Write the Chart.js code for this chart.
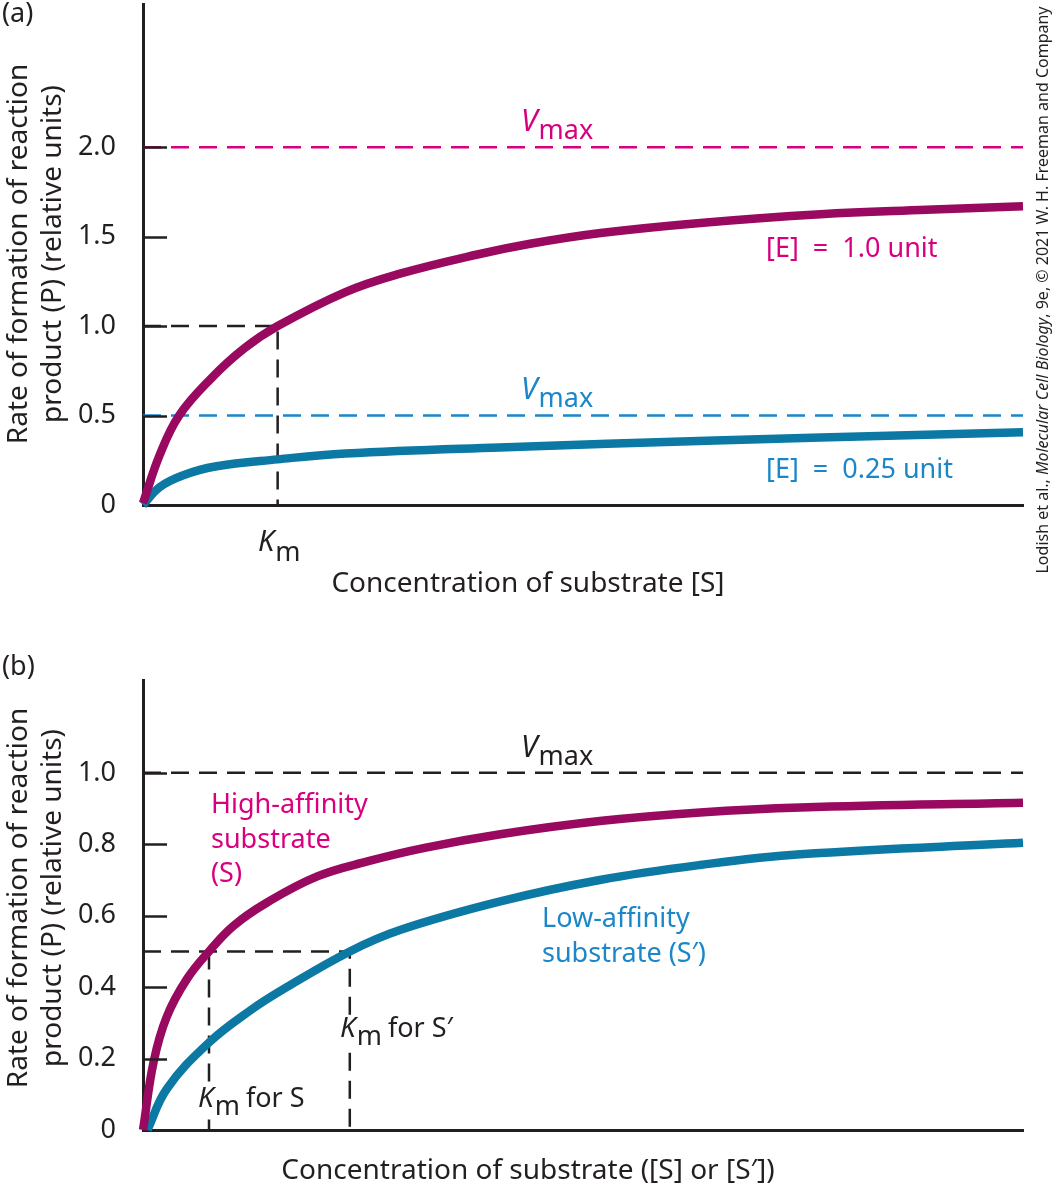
<!DOCTYPE html>
<html>
<head>
<meta charset="utf-8">
<title>Michaelis-Menten kinetics</title>
<script src="https://cdn.jsdelivr.net/npm/chart.js@4.4.1/dist/chart.umd.min.js"></script>
<style>
    html, body { margin: 0; padding: 0; background: #fff; }
    .panel { position: absolute; left: 0; width: 1056px; }
    #panelA { top: 0; height: 600px; }
    #panelB { top: 600px; height: 586px; }
</style>
</head>
<body>
<div class="panel" id="panelA"><canvas id="chartA" width="1056" height="600"></canvas></div>
<div class="panel" id="panelB"><canvas id="chartB" width="1056" height="586"></canvas></div>
<script>
// ---- panel (a): two enzyme concentrations, same substrate ----
const substrateA = [0, 0.19, 0.41, 0.78, 1.15, 1.53, 2.3, 2.9, 3.8, 4.4, 5.2, 6.3, 7.7, 8.9, 10];
const rateEnzyme1 = [0.01, 0.28, 0.5, 0.71, 0.875, 1.0, 1.19, 1.29, 1.4, 1.46, 1.52, 1.575, 1.625, 1.65, 1.67];
const substrateA2 = [0, 0.19, 0.45, 0.82, 1.53, 2.3, 4.05, 6.5, 8.9, 10];
const rateEnzyme025 = [0, 0.1, 0.165, 0.215, 0.255, 0.288, 0.322, 0.36, 0.393, 0.407];
const ticksA = [0, 0.5, 1.0, 1.5, 2.0];
const vmaxEnzyme1 = 2.0;
const vmaxEnzyme025 = 0.5;
const kmA = 1.53;

// ---- panel (b): high- vs low-affinity substrate ----
const substrateS = [0, 0.12, 0.27, 0.5, 0.75, 1.03, 1.41, 1.98, 2.55, 3.2, 4.06, 5.19, 6.33, 7.47, 10];
const rateHighAff = [0, 0.19, 0.317, 0.423, 0.5, 0.572, 0.637, 0.71, 0.752, 0.79, 0.828, 0.865, 0.889, 0.903, 0.916];
const substrateS2 = [0.05, 0.27, 0.75, 1.22, 1.6, 2.35, 2.92, 4.06, 5.19, 6.33, 7.47, 10];
const rateLowAff = [0, 0.115, 0.245, 0.335, 0.395, 0.5, 0.56, 0.64, 0.7, 0.742, 0.772, 0.804];
const ticksB = [0, 0.2, 0.4, 0.6, 0.8, 1.0];
const vmaxB = 1.0;
const kmS = 0.75;
const kmS2 = 2.35;

const xMax = 10;

const INK = "#231f20";
const MAGENTA_LINE = "#98095f";
const BLUE_LINE = "#0b79a3";
const MAGENTA_TEXT = "#d9007f";
const BLUE_TEXT = "#1b87c9";
const FAMILY = '"Noto Sans", "Open Sans", sans-serif';

function font(size, style) {
    return (style ? style + " " : "") + size + "px " + FAMILY;
}

function toPoints(xs, ys) {
    return xs.map((x, i) => ({ x: x, y: ys[i] }));
}

function curve(xs, ys, color) {
    return {
        data: toPoints(xs, ys),
        showLine: true,
        borderColor: color,
        borderWidth: 8.5,
        borderCapStyle: "butt",
        tension: 0.4,
        pointRadius: 0,
        clip: false,
        order: 0,
    };
}

function dashed(points, color) {
    return {
        data: points,
        showLine: true,
        borderColor: color,
        borderWidth: 2.5,
        borderDash: [18, 10],
        pointRadius: 0,
        tension: 0,
        clip: false,
        order: 1,
    };
}

// plain text helper
function put(ctx, str, x, y, color, f, align) {
    ctx.font = f;
    ctx.fillStyle = color;
    ctx.textAlign = align || "left";
    ctx.textBaseline = "alphabetic";
    ctx.fillText(str, x, y);
    return x + ctx.measureText(str).width;
}

// italic symbol with a subscript, e.g. V_max / K_m
function symbolSub(ctx, x, y, sym, sub, color, symSize, subSize, drop) {
    let nx = put(ctx, sym, x, y, color, font(symSize, "italic"));
    return put(ctx, sub, nx + 1, y + drop, color, font(subSize));
}

function yTitle(ctx, centerY) {
    ctx.save();
    ctx.translate(0, centerY);
    ctx.rotate(-Math.PI / 2);
    ctx.font = font(28);
    ctx.fillStyle = INK;
    ctx.textAlign = "center";
    ctx.textBaseline = "alphabetic";
    ctx.fillText("Rate of formation of reaction", 0, 27);
    ctx.fillText("product (P) (relative units)", 0, 61);
    ctx.restore();
}

function innerTicks(chart, ticks) {
    const ctx = chart.ctx;
    const left = chart.chartArea.left;
    ctx.save();
    ctx.strokeStyle = INK;
    ctx.lineWidth = 2.5;
    ticks.filter((v) => v > 0).forEach((v) => {
        const y = Math.round(chart.scales.y.getPixelForValue(v)) + 0.5;
        ctx.beginPath();
        ctx.moveTo(left, y);
        ctx.lineTo(left + 24, y);
        ctx.stroke();
    });
    ctx.restore();
}

function credit(ctx) {
    const parts = [
        ["Lodish et al., ", ""],
        ["Molecular Cell Biology", "italic"],
        [", 9e, \u00a9 2021 W. H. Freeman and Company", ""],
    ];
    ctx.save();
    ctx.translate(1048, 290);
    ctx.rotate(-Math.PI / 2);
    ctx.fillStyle = INK;
    ctx.textBaseline = "alphabetic";
    ctx.textAlign = "left";
    let total = 0;
    parts.forEach((p) => {
        ctx.font = font(16, p[1]);
        total += ctx.measureText(p[0]).width;
    });
    let x = -total / 2;
    parts.forEach((p) => {
        ctx.font = font(16, p[1]);
        ctx.fillText(p[0], x, 0);
        x += ctx.measureText(p[0]).width;
    });
    ctx.restore();
}

const panelAText = {
    id: "panelAText",
    afterDatasetsDraw(chart) {
        innerTicks(chart, ticksA);
    },
    afterDraw(chart) {
        const ctx = chart.ctx;
        ctx.save();
        put(ctx, "(a)", 2, 22, INK, font(27));
        yTitle(ctx, 254);
        put(ctx, "Concentration of substrate [S]", 528, 592, INK, font(28), "center");

        symbolSub(ctx, 258, 551, "K", "m", INK, 29, 27, 10);

        symbolSub(ctx, 521, 131, "V", "max", MAGENTA_TEXT, 30, 27, 8);
        put(ctx, "[E]  =  1.0 unit", 766, 257, MAGENTA_TEXT, font(27));

        symbolSub(ctx, 521, 399, "V", "max", BLUE_TEXT, 30, 27, 8);
        put(ctx, "[E]  =  0.25 unit", 766, 478, BLUE_TEXT, font(27));

        credit(ctx);
        ctx.restore();
    },
};

function kmLabel(ctx, x, y, tail) {
    ctx.font = font(28, "italic");
    const w1 = ctx.measureText("K").width;
    ctx.font = font(27);
    const w2 = ctx.measureText("m " + tail).width;
    ctx.fillStyle = "#fff";
    ctx.fillRect(x - 2, y - 22, w1 + w2 + 6, 34);
    let nx = symbolSub(ctx, x, y, "K", "m", INK, 28, 27, 8);
    put(ctx, tail, nx + 6, y, INK, font(27));
}

const panelBText = {
    id: "panelBText",
    afterDatasetsDraw(chart) {
        innerTicks(chart, ticksB);
    },
    afterDraw(chart) {
        const ctx = chart.ctx;
        ctx.save();
        put(ctx, "(b)", 2, 75, INK, font(27));
        yTitle(ctx, 298);
        put(ctx, "Concentration of substrate ([S] or [S\u2032])", 528, 579, INK, font(28), "center");

        symbolSub(ctx, 521, 157, "V", "max", INK, 30, 27, 8);

        put(ctx, "High-affinity", 211, 213, MAGENTA_TEXT, font(27));
        put(ctx, "substrate", 211, 248, MAGENTA_TEXT, font(27));
        put(ctx, "(S)", 211, 282, MAGENTA_TEXT, font(27));

        put(ctx, "Low-affinity", 542, 327, BLUE_TEXT, font(27));
        put(ctx, "substrate (S\u2032)", 542, 362, BLUE_TEXT, font(27));

        kmLabel(ctx, 198, 507, "for S");
        kmLabel(ctx, 340, 437, "for S\u2032");
        ctx.restore();
    },
};

function buildChart(id, cfg) {
    return new Chart(document.getElementById(id), {
        type: "scatter",
        data: { datasets: cfg.datasets },
        options: {
            responsive: false,
            animation: false,
            devicePixelRatio: 1,
            layout: { padding: { left: 0, right: 33, top: cfg.top, bottom: 0 } },
            plugins: {
                legend: { display: false },
                tooltip: { enabled: false },
            },
            elements: { point: { radius: 0, hoverRadius: 0 } },
            scales: {
                x: {
                    type: "linear",
                    min: 0,
                    max: xMax,
                    grid: { display: false },
                    ticks: { display: false },
                    border: { display: true, color: INK, width: 3 },
                    afterFit(s) {
                        s.height = cfg.xAxisHeight;
                        s.paddingLeft = 0;
                        s.paddingRight = 0;
                    },
                },
                y: {
                    type: "linear",
                    min: 0,
                    max: cfg.yMax,
                    grid: { display: false },
                    border: { display: true, color: INK, width: 3 },
                    afterBuildTicks(s) {
                        s.ticks = cfg.ticks.map((v) => ({ value: v }));
                    },
                    ticks: {
                        padding: 19,
                        color: INK,
                        font: { family: FAMILY, size: 27 },
                        callback: (v) => (v === 0 ? "0" : v.toFixed(1)),
                    },
                    afterFit(s) {
                        s.width = 143;
                        s.paddingTop = 0;
                        s.paddingBottom = 0;
                    },
                },
            },
        },
        plugins: [cfg.plugin],
    });
}

buildChart("chartA", {
    top: 4,
    xAxisHeight: 95,
    yMax: 2.8,
    ticks: ticksA,
    plugin: panelAText,
    datasets: [
        curve(substrateA, rateEnzyme1, MAGENTA_LINE),
        curve(substrateA2, rateEnzyme025, BLUE_LINE),
        dashed([{ x: 0, y: vmaxEnzyme1 }, { x: xMax, y: vmaxEnzyme1 }], MAGENTA_TEXT),
        dashed([{ x: 0, y: vmaxEnzyme025 }, { x: xMax, y: vmaxEnzyme025 }], BLUE_TEXT),
        dashed([{ x: 0, y: 1.0 }, { x: kmA, y: 1.0 }, { x: kmA, y: 0 }], INK),
    ],
});

buildChart("chartB", {
    top: 80,
    xAxisHeight: 56,
    yMax: 1.26,
    ticks: ticksB,
    plugin: panelBText,
    datasets: [
        curve(substrateS, rateHighAff, MAGENTA_LINE),
        curve(substrateS2, rateLowAff, BLUE_LINE),
        dashed([{ x: 0, y: vmaxB }, { x: xMax, y: vmaxB }], INK),
        dashed([{ x: 0, y: 0.5 }, { x: kmS2, y: 0.5 }, { x: kmS2, y: 0 }], INK),
        dashed([{ x: kmS, y: 0.5 }, { x: kmS, y: 0 }], INK),
    ],
});
</script>
</body>
</html>
